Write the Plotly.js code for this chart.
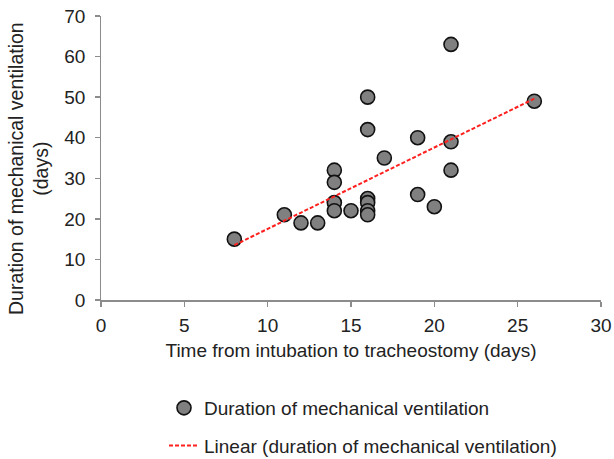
<!DOCTYPE html>
<html>
<head>
<meta charset="utf-8">
<script src="https://cdn.plot.ly/plotly-3.0.1.min.js"></script>
<style>html,body{margin:0;padding:0;background:#fff;}#chart{width:614px;height:459px;}</style>
</head>
<body>
<div id="chart"></div>
<script>
// Time from intubation to tracheostomy (days)
const timeToTrach = [8, 11, 12, 13, 14, 14, 14, 14, 15, 16, 16, 16, 16, 16, 16, 17, 19, 19, 20, 21, 21, 21, 26];
// Duration of mechanical ventilation (days)
const ventDuration = [15, 21, 19, 19, 32, 29, 24, 22, 22, 50, 42, 25, 24, 22, 21, 35, 40, 26, 23, 63, 39, 32, 49];
const xTicks = [0, 5, 10, 15, 20, 25, 30];
const yTicks = [0, 10, 20, 30, 40, 50, 60, 70];

// Linear least-squares trendline (as in the spreadsheet's "Linear" trendline)
function linFit(xs, ys) {
  const n = xs.length;
  const mx = xs.reduce((a, b) => a + b, 0) / n;
  const my = ys.reduce((a, b) => a + b, 0) / n;
  let sxy = 0, sxx = 0;
  for (let i = 0; i < n; i++) { sxy += (xs[i] - mx) * (ys[i] - my); sxx += (xs[i] - mx) ** 2; }
  const b = sxy / sxx;
  return { slope: b, intercept: my - b * mx };
}
const fit = linFit(timeToTrach, ventDuration);
const xMin = Math.min(...timeToTrach), xMax = Math.max(...timeToTrach);
const trendX = [xMin, xMax];
const trendY = trendX.map(x => fit.intercept + fit.slope * x);

const fam = 'Liberation Sans, Arial, sans-serif';
const font = { family: fam, size: 19, color: '#222' };

const traces = [
  {
    x: timeToTrach, y: ventDuration, type: 'scatter', mode: 'markers',
    name: 'Duration of mechanical ventilation', legendgroup: 'a',
    marker: { color: '#808080', size: 14, line: { color: '#111', width: 1.6 } }
  },
  {
    x: trendX, y: trendY, type: 'scatter', mode: 'lines',
    name: 'Linear (duration of mechanical ventilation)', legendgroup: 'b',
    line: { color: '#ff2020', width: 2, dash: '4px,2px' }
  }
];

const layout = {
  width: 614, height: 459,
  margin: { l: 101, r: 13, t: 16, b: 159, autoexpand: false },
  paper_bgcolor: '#fff', plot_bgcolor: '#fff',
  font: font,
  showlegend: true,
  legend: {
    orientation: 'v', xref: 'container', yref: 'container',
    x: 164 / 614, xanchor: 'left', y: 1 - 389 / 459, yanchor: 'top',
    tracegroupgap: 10, font: font, bgcolor: 'rgba(0,0,0,0)'
  },
  xaxis: {
    range: [0, 30], tickvals: xTicks, ticktext: xTicks.map(String),
    showgrid: false, zeroline: false, showline: true, linecolor: '#8c8c8c', linewidth: 1.5,
    ticks: 'outside', ticklen: 5, tickcolor: '#8c8c8c', tickwidth: 1.5,
    tickfont: font, ticklabelstandoff: 3, automargin: true,
    title: { text: 'Time from intubation to tracheostomy (days)', font: { family: fam, size: 19, color: '#222' }, standoff: 8 }
  },
  yaxis: {
    range: [0, 70], tickvals: yTicks, ticktext: yTicks.map(v => v + '\u00a0'),
    showgrid: false, zeroline: false, showline: true, linecolor: '#8c8c8c', linewidth: 1.5,
    ticks: 'outside', ticklen: 5, tickcolor: '#8c8c8c', tickwidth: 1.5,
    tickfont: font, automargin: false
  },
  annotations: [{
    text: 'Duration of mechanical ventilation<br>(days)',
    xref: 'paper', yref: 'paper', x: (28 - 101) / 500, y: (300 - 169) / 284,
    xanchor: 'center', yanchor: 'middle', textangle: -90, showarrow: false,
    font: { family: fam, size: 19.5, color: '#222' }
  }]
};

Plotly.newPlot('chart', traces, layout, { displayModeBar: false, staticPlot: true });
</script>
</body>
</html>
